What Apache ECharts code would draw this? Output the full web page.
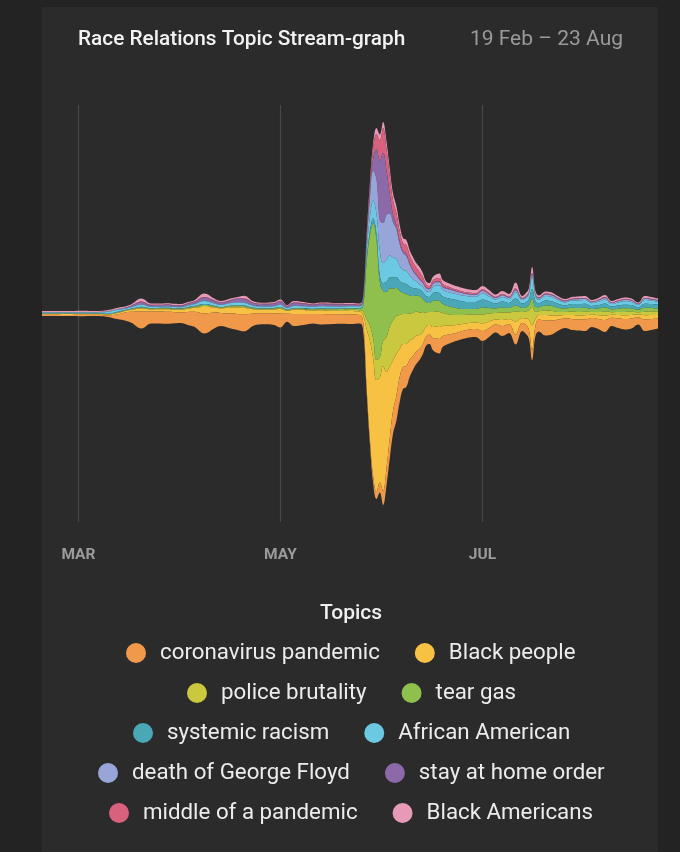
<!DOCTYPE html>
<html>
<head>
<meta charset="utf-8">
<script src="https://cdn.jsdelivr.net/npm/echarts@6/dist/echarts.min.js"></script>
<style>
html,body{margin:0;padding:0;background:#232323;width:680px;height:852px;overflow:hidden}
#panel{position:absolute;left:42px;top:7px;width:616px;height:845px;background:#2b2b2b}
#chart{position:absolute;left:0;top:0;width:680px;height:852px}
</style>
</head>
<body>
<div id="panel"></div>
<div id="chart"></div>
<script>
// ---------- DATA ----------
const dates = [
'2020-02-19','2020-02-22','2020-02-25','2020-02-28','2020-03-02','2020-03-05','2020-03-08','2020-03-10','2020-03-13','2020-03-15','2020-03-17','2020-03-20','2020-03-23','2020-03-25','2020-03-28','2020-03-30','2020-04-01','2020-04-03','2020-04-05','2020-04-08','2020-04-11','2020-04-13','2020-04-16','2020-04-18','2020-04-20','2020-04-23','2020-04-26','2020-04-29','2020-05-01','2020-05-03','2020-05-05','2020-05-08','2020-05-11','2020-05-13','2020-05-16','2020-05-19','2020-05-22','2020-05-25',
'2020-05-26','2020-05-27','2020-05-28','2020-05-29','2020-05-30','2020-05-31','2020-06-01','2020-06-02','2020-06-03','2020-06-04','2020-06-05','2020-06-06','2020-06-07','2020-06-08','2020-06-09','2020-06-10','2020-06-11','2020-06-12','2020-06-13','2020-06-14','2020-06-15','2020-06-16','2020-06-17','2020-06-18','2020-06-19',
'2020-06-21','2020-06-23','2020-06-25','2020-06-27','2020-06-29','2020-07-01','2020-07-03','2020-07-05','2020-07-07','2020-07-09','2020-07-11','2020-07-13','2020-07-14','2020-07-15','2020-07-16','2020-07-17','2020-07-18',
'2020-07-20','2020-07-22','2020-07-24','2020-07-26','2020-07-28','2020-07-30','2020-08-01','2020-08-03','2020-08-05','2020-08-07','2020-08-09','2020-08-11','2020-08-13','2020-08-15','2020-08-17','2020-08-19','2020-08-21','2020-08-23'
];

const topics = ['coronavirus pandemic','Black people','police brutality','tear gas','systemic racism','African American','death of George Floyd','stay at home order','middle of a pandemic','Black Americans'];

const coronavirusPandemic = [
1.2,1.2,1.2,1.1,1.3,1.2,1.3,1.5,5,8,11,17,12,12,12,11,10.5,13,15,20,16,13,15,16,17,12,11,11.5,14,8,12,11,9.5,10.5,10,9.5,9.5,8.5,
8.5,5,5,7,7,10,14,17,20,23,25,25,22,21,17.5,14,12.5,11,10,9,9.5,12,14,14.5,11,
9,8,8,8,8,10,9,8,10,9,10,8,9,9,10,10,12,
15,14,11,9.5,11,11,11.5,9,10,12,8.2,9.5,10.5,10,7.3,11.5,11,10];

const blackPeople = [
0.8,0.8,0.9,0.8,0.8,0.7,0.8,1,1.5,1.5,2,3,2,2.2,2.5,2.5,2.7,3.2,4,6.5,5,4.5,6,6.5,6.5,4,3.5,3.8,4.5,3,4.2,4,3.5,3.8,3.7,3.5,3.5,3.2,
7,57,98,118,112,105,125,97,72,50,42,28,23,22,19,17,16,14,12,10,9.5,11,12,12,10,
9,8,7,6.5,6.5,7.5,6.5,5,6,5,13,5,6,10,25,7,4.5,
5.5,5,4,3.5,4,4,4.2,3.2,3.7,4.4,3,3.5,3.8,3.6,2.6,4.2,4,3.6];

const policeBrutality = [
0.2,0.2,0.2,0.2,0.2,0.2,0.2,0.2,0.3,0.3,0.4,0.5,0.4,0.4,0.5,0.5,0.5,0.5,0.6,1,0.6,0.5,0.7,0.8,0.8,0.6,0.5,0.5,0.7,0.4,0.6,0.6,0.6,0.7,0.8,0.9,1.2,1.4,
4,10,15,20,20,20,25,35,40,40,38,34,30,30,27,26,24,22.5,19,14,13,15,15,15,13,
11,10,9,8.5,8,9,8,6.5,7.5,6.5,10,6,7,9,18,7,3.8,
4.5,4.5,3.5,3,3.5,3.5,3.6,2.8,3.2,3.8,2.6,3,3.3,3.1,2.3,3.6,3.4,3.1];

const tearGas = [
0.1,0.1,0.1,0.1,0.1,0.1,0.1,0.1,0.2,0.2,0.3,0.5,0.4,0.4,0.5,0.4,0.4,0.5,0.6,1,0.6,0.5,0.8,0.9,0.9,0.6,0.5,0.6,0.7,0.5,0.7,0.7,0.6,0.7,0.8,0.9,1.2,1.5,
6,55,90,115,120,75,50,45,38,32,28,24,21,20,18,17,16,16,14,10,9,11,11,11,9,
8,7,6,5.5,5.5,7,5.5,4.5,5,4.5,6,4,4,5,8,5,4,
5,5,4,3.3,3.8,4,4,3,3.5,4.2,2.8,3.3,3.6,3.4,2.5,4,3.7,3.4];

const systemicRacism = [
0.3,0.3,0.3,0.3,0.3,0.3,0.4,0.5,0.8,0.5,0.5,0.7,0.5,0.5,0.5,0.5,0.5,0.6,0.6,1,0.6,0.5,0.6,0.7,0.7,0.5,0.5,0.5,0.6,0.4,0.6,0.5,0.5,0.5,0.5,0.5,0.5,0.6,
1,3,4,5,6,7,8,10,11,11,11,10,10,10,9,8,7,7,7,6.2,6,7.7,8,8,7.5,
8,8,7.5,7,7,8,6.5,5,6,5,7,4.5,5,6,10,5.5,4,
5,4.5,4,3.3,3.7,4,4,3,3.5,4.2,2.8,3.3,3.6,3.4,2.5,4,3.8,3.4];

const africanAmerican = [
0.9,0.9,0.9,1,1,1,1.2,2,1.8,1.3,1.5,2,1.2,1.2,1.3,1.3,1.2,1.5,1.7,3,2.2,2,2.3,2.5,2.5,1.8,1.7,1.8,2.2,1.5,2,2,1.8,2,2,1.9,1.8,1.8,
2.5,8,14,18,20,25,20,22,22,20,18,15,13,13,11,9,7,5,5,5,5,6,7,7.5,6.5,
6,6,6,5.5,5.2,6,5,4,4.5,3.8,6,3.5,4,5,12,5,3.5,
4.5,4.5,3.5,3,3.4,3.5,3.6,2.8,3.3,4,2.6,3,3.4,3.1,2.3,3.6,3.4,3.1];

const deathOfGeorgeFloyd = [
0.3,0.3,0.3,0.3,0.3,0.3,0.3,0.4,0.4,0.4,0.4,0.6,0.4,0.4,0.4,0.4,0.4,0.4,0.5,0.6,0.5,0.4,0.5,0.6,0.6,0.4,0.4,0.4,0.5,0.4,0.5,0.4,0.4,0.4,0.4,0.4,0.4,0.4,
2,8,18,30,35,30,40,45,42,35,30,22,17,15,11,8,6,5,4,3,2.7,3,3.2,3.2,2.8,
3,2.5,2.2,2,2,2.5,2,1.5,1.8,1.5,2,1,1,1.5,2,1.5,1.2,
1.5,1.5,1.3,1.1,1.2,1.3,1.3,1,1.2,1.4,1,1.1,1.2,1.1,0.8,1.3,1.2,1.1];

const stayAtHomeOrder = [
0,0,0,0,0,0,0,0,0.3,0.4,0.9,2.2,1.4,1.3,1.4,1.3,1.2,1.6,1.9,2.9,2.3,1.9,2.2,3.2,3.4,2.3,2.1,2.2,2.8,1.4,2.5,2.1,1.8,2,1.9,1.7,1.5,1.2,
1,2,5,12,30,60,70,45,20,8,4,3,2,2,1.5,1,1,1,1,0.8,0.8,0.8,0.8,0.8,0.7,
0.8,0.6,0.5,0.5,0.5,0.5,0.5,0.4,0.4,0.4,1,0.4,0.5,0.5,1,0.5,0.5,
0.5,0.5,0.5,0.4,0.4,0.5,0.5,0.4,0.4,0.5,0.3,0.4,0.4,0.4,0.3,0.5,0.4,0.4];

const middleOfAPandemic = [
0,0,0.1,0,0.1,0,0.1,0,0.1,0.2,0.4,0.5,0.4,0.3,0.3,0.3,0.3,0.4,0.4,0.5,0.4,0.3,0.4,0.4,0.5,0.4,0.3,0.4,0.5,0.2,0.4,0.4,0.3,0.3,0.4,0.3,0.3,0.3,
1,3,6,10,15,20,25,22,18,14,12,10,8,9,8,8,7,6.5,5,3,2.5,3,3,3.5,2.5,
1.7,1.4,1.3,1.2,1.1,1.3,1,0.6,0.8,0.5,1,0.6,0.5,0.5,1,0.5,0.5,
0.5,0.5,0.4,0.3,0.3,0.4,0.4,0.3,0.4,0.5,0.3,0.3,0.4,0.3,0.2,0.4,0.4,0.3];

const blackAmericans = [
1.2,1.2,1.2,1.2,1.2,1.2,1.1,1.3,1.3,1.2,1.3,3,1.3,1.3,1.3,1.3,1.3,1.3,1.4,3.5,1.8,1.4,1.5,1.4,2.8,1.4,1.2,1.3,1.5,0.9,1.5,1.3,1,1.1,1.2,1.1,1.1,1.1,
2,4,5,5,6,6,6,7,7,7,7,6,5,5,5,5,4.5,5,4,3,3,3.5,4,4.5,4,
3.5,3.5,3.5,3.3,3.2,3.2,3,2.5,3,2.8,6,2,3,3.5,6,3,2,
2,2,1.8,1.6,1.7,1.8,1.9,1.5,1.8,2,1.4,1.6,1.8,1.6,1.2,1.9,1.7,1.6];

const tickDates = ['2020-03-01','2020-05-01','2020-07-01'];
const tickLabels = ['MAR','MAY','JUL'];

// ---------- STYLE ----------
const topicColors = ['#F0994B','#F7C244','#C9C83E','#8FC04D','#4AA7B5','#6CC9E3','#98A5D9','#8C69A9','#D8617D','#E79AB8'];
const legendRows = [
  ['coronavirus pandemic','Black people'],
  ['police brutality','tear gas'],
  ['systemic racism','African American'],
  ['death of George Floyd','stay at home order'],
  ['middle of a pandemic','Black Americans']
];
const legendLefts = [126, 187, 133, 98, 109];

const seriesValues = [coronavirusPandemic, blackPeople, policeBrutality, tearGas, systemicRacism, africanAmerican, deathOfGeorgeFloyd, stayAtHomeOrder, middleOfAPandemic, blackAmericans];

// themeRiver draws the first layer at the top: feed layers top -> bottom
const layerIdx = topics.map((t, i) => i).reverse();
const riverData = [];
layerIdx.forEach(i => {
  dates.forEach((d, j) => riverData.push([d, seriesValues[i][j], topics[i]]));
});
const palette = layerIdx.map(i => topicColors[i]);

// daily category axis spanning the same range, used for gridlines + month labels
function pad(n) { return (n < 10 ? '0' : '') + n; }
const axisDays = [];
(function () {
  const p = dates[0].split('-').map(Number);
  const q = dates[dates.length - 1].split('-').map(Number);
  const end = new Date(q[0], q[1] - 1, q[2]).getTime();
  for (let k = 0; ; k++) {
    const dt = new Date(p[0], p[1] - 1, p[2] + k);
    if (dt.getTime() > end) break;
    axisDays.push(dt.getFullYear() + '-' + pad(dt.getMonth() + 1) + '-' + pad(dt.getDate()));
  }
})();
const isTick = (i, v) => tickDates.indexOf(v) >= 0;

const chart = echarts.init(document.getElementById('chart'));
chart.setOption({
  animation: false,
  color: palette,
  grid: { left: 42, right: 22, top: 105, height: 417, containLabel: false },
  xAxis: {
    type: 'category', data: axisDays, boundaryGap: false,
    axisLine: { show: false }, axisTick: { show: false },
    axisLabel: {
      interval: isTick,
      formatter: v => tickLabels[tickDates.indexOf(v)] || '',
      color: '#9b9b9b', fontSize: 15.5, fontWeight: 'bold', fontFamily: 'Roboto', margin: 25
    },
    splitLine: { show: true, interval: isTick, lineStyle: { color: '#484848', width: 1.2, type: 'solid' } }
  },
  yAxis: { type: 'value', show: false, min: 0, max: 1, splitLine: { show: false } },
  singleAxis: [
    {
      type: 'time', left: 42, right: 22, top: 122, height: 383,
      min: dates[0], max: dates[dates.length - 1],
      axisLine: { show: false }, axisTick: { show: false },
      axisLabel: { show: false }, splitLine: { show: false },
      axisPointer: { show: false }
    }
  ],
  legend: legendRows.map((row, i) => ({
    data: row,
    orient: 'horizontal',
    left: legendLefts[i],
    top: 642 + i * 40,
    padding: 0,
    itemWidth: 20,
    itemHeight: 20,
    itemGap: 35,
    icon: 'circle',
    selectedMode: false,
    textStyle: { color: '#ececec', fontSize: 22.3, fontFamily: 'Roboto', lineHeight: 20, padding: [0, 0, 0, 9] }
  })),
  graphic: [
    { type: 'text', x: 78, y: 40, style: { text: 'Race Relations Topic Stream-graph', fill: '#f2f2f2', fontSize: 20.8, fontWeight: 500, fontFamily: 'Roboto', align: 'left', verticalAlign: 'middle' } },
    { type: 'text', x: 623, y: 40, style: { text: '19 Feb – 23 Aug', fill: '#9a9a9a', fontSize: 21, fontWeight: 400, fontFamily: 'Roboto', align: 'right', verticalAlign: 'middle' } },
    { type: 'text', x: 351, y: 614, style: { text: 'Topics', fill: '#efefef', fontSize: 21, fontWeight: 500, fontFamily: 'Roboto', align: 'center', verticalAlign: 'middle' } }
  ],
  series: [{
    type: 'themeRiver',
    singleAxisIndex: 0,
    boundaryGap: [0, 0],
    color: palette,
    label: { show: false },
    emphasis: { disabled: true },
    data: riverData
  }]
});
</script>
</body>
</html>
